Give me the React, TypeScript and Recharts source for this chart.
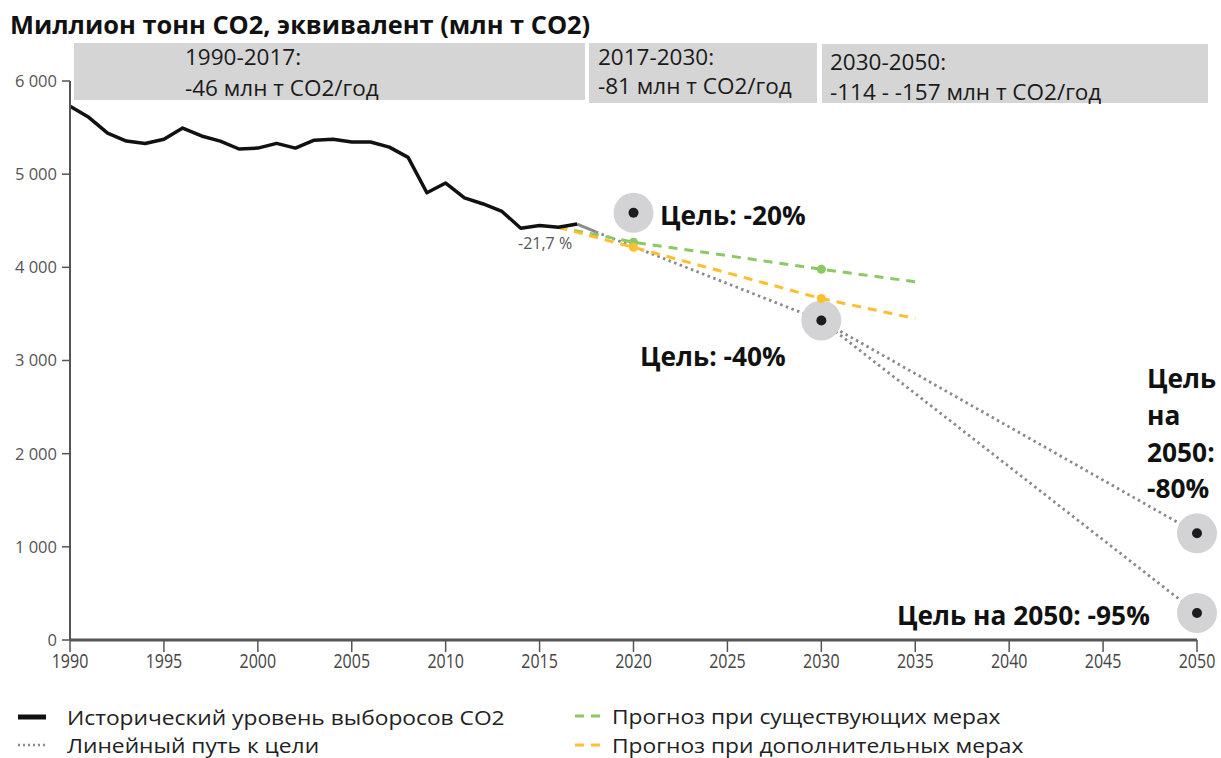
import React from 'react';
import { ComposedChart, Line, XAxis, YAxis } from 'recharts';

const histYears = [1990, 1991, 1992, 1993, 1994, 1995, 1996, 1997, 1998, 1999, 2000, 2001, 2002, 2003, 2004, 2005, 2006, 2007, 2008, 2009, 2010, 2011, 2012, 2013, 2014, 2015, 2016, 2017];
const historicalEmissions = [5730, 5610, 5440, 5355, 5330, 5375, 5495, 5410, 5355, 5270, 5280, 5330, 5280, 5365, 5375, 5345, 5345, 5290, 5180, 4800, 4905, 4745, 4680, 4600, 4420, 4450, 4430, 4465];
const prelimYears = [2017, 2018];
const prelimEmissions = [4465, 4380];
const projYears = [2016, 2020, 2030, 2035];
const existingMeasures = [4430, 4270, 3980, 3845];
const additionalMeasures = [4430, 4215, 3665, 3450];
const projDotYears = [2020, 2030];
const path80Years = [2018, 2030, 2050];
const path80 = [4380, 3430, 1145];
const path95Years = [2030, 2050];
const path95 = [3430, 290];
const targetYears = [2020, 2030, 2050, 2050];
const targetValues = [4585, 3430, 1145, 290];
const xTicks = [1990, 1995, 2000, 2005, 2010, 2015, 2020, 2025, 2030, 2035, 2040, 2045, 2050];
const yTicks = [0, 1000, 2000, 3000, 4000, 5000, 6000];
const yTickLabels = ['0', '1 000', '2 000', '3 000', '4 000', '5 000', '6 000'];

const rows = (years: number[], vals: number[]) => years.map((year, i) => ({ year, value: vals[i] }));

const historical = rows(histYears, historicalEmissions);
const prelim = rows(prelimYears, prelimEmissions);
const existing = rows(projYears, existingMeasures);
const additional = rows(projYears, additionalMeasures);
const linear80 = rows(path80Years, path80);
const linear95 = rows(path95Years, path95);
const targets = rows(targetYears, targetValues);

const GREEN = '#8cc863';
const ORANGE = '#fdbf2d';
const GRAY_DOT = '#8a8a8a';
const TITLE_FONT = '"Open Sans", "Noto Sans", sans-serif';
const NARROW_FONT = '"Liberation Sans Narrow", "Open Sans", sans-serif';

const projDot = (color: string) => (props: any) => {
  const { cx, cy, payload, index } = props;
  if (!projDotYears.includes(payload.year)) return <g key={`pd-${index}`} />;
  return <circle key={`pd-${index}`} cx={cx} cy={cy} r={4.5} fill={color} />;
};

const targetHalo = (props: any) => (
  <circle key={`th-${props.index}`} cx={props.cx} cy={props.cy} r={20} fill="#d3d3d5" />
);
const targetCenter = (props: any) => (
  <circle key={`tc-${props.index}`} cx={props.cx} cy={props.cy} r={5} fill="#1c1c1c" />
);

const XTick = (props: any) => {
  const { x, y, payload } = props;
  return (
    <g transform={`translate(${x},${y})`}>
      <text x={0} y={0} dy={12} textAnchor="middle" fontSize={16} fill="#444" fontFamily={NARROW_FONT}
        transform="scale(1,1.2)">
        {payload.value}
      </text>
    </g>
  );
};

const boxStyle: React.CSSProperties = { position: 'absolute', background: '#d5d5d5' };
const boxText = (left: number, centerY: number, text: string, size = 22.5) => (
  <div style={{ position: 'absolute', left, top: centerY - 14, height: 28, lineHeight: '28px', fontSize: size, fontFamily: TITLE_FONT, color: '#1a1a1a', whiteSpace: 'nowrap' }}>{text}</div>
);
const note = (left: number, centerY: number, text: string) => (
  <div style={{ position: 'absolute', left, top: centerY - 17, height: 34, lineHeight: '34px', fontSize: 26.3, fontWeight: 700, fontFamily: TITLE_FONT, color: '#111', whiteSpace: 'nowrap' }}>{text}</div>
);
const legendText = (left: number, centerY: number, text: string) => (
  <div style={{ position: 'absolute', left, top: centerY - 12, height: 24, lineHeight: '24px', fontSize: 20.5, fontFamily: '"Open Sans", sans-serif', color: '#222', whiteSpace: 'nowrap', transform: 'scaleX(1.11)', transformOrigin: '0 50%' }}>{text}</div>
);

export default function App() {
  return (
    <div style={{ position: 'absolute', left: 0, top: 0, width: 1221, height: 758, background: '#fff', overflow: 'hidden' }}>
      <div style={{ ...boxStyle, left: 74, top: 43, width: 511, height: 57 }} />
      <div style={{ ...boxStyle, left: 589, top: 43, width: 228, height: 60 }} />
      <div style={{ ...boxStyle, left: 822, top: 44, width: 386, height: 59 }} />
      {boxText(185, 57, '1990-2017:')}
      {boxText(185, 88, '-46 млн т CO2/год')}
      {boxText(598, 57, '2017-2030:')}
      {boxText(598, 86, '-81 млн т CO2/год')}
      {boxText(830, 62, '2030-2050:')}
      {boxText(830, 92, '-114 - -157 млн т CO2/год')}

      <div style={{ position: 'absolute', left: 10, top: 6, height: 36, lineHeight: '36px', fontSize: 25.4, fontWeight: 700, fontFamily: TITLE_FONT, color: '#111', whiteSpace: 'nowrap' }}>
        Миллион тонн CO2, эквивалент (млн т CO2)
      </div>

      <div style={{ position: 'absolute', left: 0, top: 0 }}>
        <ComposedChart width={1221} height={758} margin={{ top: 81, right: 24, bottom: 88, left: 0 }}>
          <XAxis dataKey="year" type="number" domain={[1990, 2050]} ticks={xTicks} interval={0}
            tickSize={12} tickMargin={2} height={30}
            axisLine={{ stroke: '#555', strokeWidth: 3 }} tickLine={{ stroke: '#555', strokeWidth: 1.5 }}
            tick={<XTick />} allowDuplicatedCategory={false} />
          <YAxis type="number" domain={[0, 6000]} ticks={yTicks} interval={0} width={70}
            tickSize={8} tickMargin={5}
            tickFormatter={(v: number) => yTickLabels[yTicks.indexOf(v)]}
            axisLine={{ stroke: '#555', strokeWidth: 2 }} tickLine={{ stroke: '#555', strokeWidth: 1.5 }}
            tick={{ fontSize: 16.5, fill: '#555', fontFamily: '"Open Sans", sans-serif' }} />
          <Line data={targets} dataKey="value" stroke="none" dot={targetHalo} activeDot={false} isAnimationActive={false} />
          <Line data={linear80} dataKey="value" stroke={GRAY_DOT} strokeWidth={2.8} strokeDasharray="2.5 3.5" dot={false} activeDot={false} isAnimationActive={false} />
          <Line data={linear95} dataKey="value" stroke={GRAY_DOT} strokeWidth={2.8} strokeDasharray="2.5 3.5" dot={false} activeDot={false} isAnimationActive={false} />
          <Line data={existing} dataKey="value" stroke={GREEN} strokeWidth={3} strokeDasharray="9 7" dot={projDot(GREEN)} activeDot={false} isAnimationActive={false} />
          <Line data={additional} dataKey="value" stroke={ORANGE} strokeWidth={3} strokeDasharray="9 7" dot={projDot(ORANGE)} activeDot={false} isAnimationActive={false} />
          <Line data={prelim} dataKey="value" stroke="#8c8c8c" strokeWidth={3} dot={false} activeDot={false} isAnimationActive={false} />
          <Line data={historical} dataKey="value" stroke="#111" strokeWidth={3.5} strokeLinejoin="round" dot={false} activeDot={false} isAnimationActive={false} />
          <Line data={targets} dataKey="value" stroke="none" dot={targetCenter} activeDot={false} isAnimationActive={false} />
        </ComposedChart>
      </div>

      <div style={{ position: 'absolute', left: 518, top: 231, fontSize: 16, lineHeight: '24px', color: '#555', fontFamily: '"Open Sans", sans-serif' }}>-21,7 %</div>
      {note(660, 215, 'Цель: -20%')}
      {note(640, 356, 'Цель: -40%')}
      {note(1147, 378, 'Цель')}
      {note(1147, 415, 'на')}
      {note(1147, 452, '2050:')}
      {note(1147, 488, '-80%')}
      {note(897, 615, 'Цель на 2050: -95%')}

      <svg style={{ position: 'absolute', left: 0, top: 700 }} width={620} height={58}>
        <line x1={18} y1={17} x2={46} y2={17} stroke="#111" strokeWidth={5} />
        <line x1={18} y1={45} x2={46} y2={45} stroke={GRAY_DOT} strokeWidth={2.5} strokeDasharray="2 3" />
        <line x1={575} y1={16} x2={601} y2={16} stroke={GREEN} strokeWidth={3} strokeDasharray="9 7" />
        <line x1={575} y1={45} x2={601} y2={45} stroke={ORANGE} strokeWidth={3} strokeDasharray="9 7" />
      </svg>
      {legendText(67, 716.5, 'Исторический уровень выборосов CO2')}
      {legendText(67, 745, 'Линейный путь к цели')}
      {legendText(612, 715.5, 'Прогноз при существующих мерах')}
      {legendText(612, 744.5, 'Прогноз при дополнительных мерах')}
    </div>
  );
}
